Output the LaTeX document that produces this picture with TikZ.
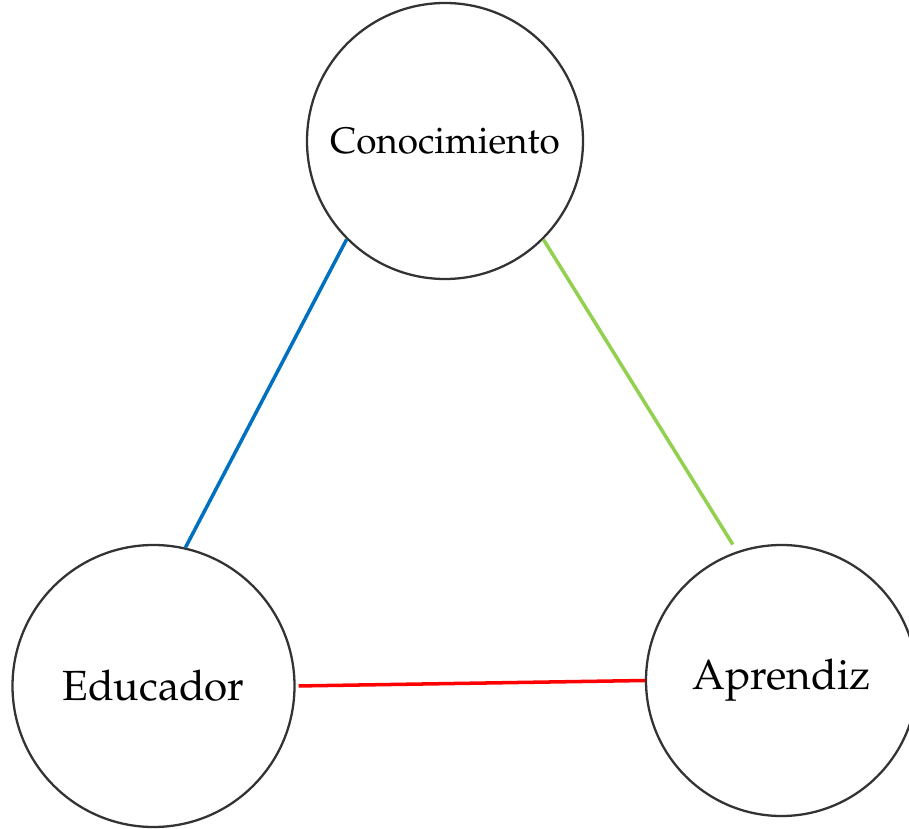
\documentclass[tikz,border=0pt]{standalone}
\usepackage[T1]{fontenc}
\usepackage{mathpazo}
\usepackage{tikz}
\usetikzlibrary{calc}

\definecolor{edublue}{HTML}{0070C0}
\definecolor{aprgreen}{HTML}{92D050}
\definecolor{circgray}{HTML}{333333}

\begin{document}
\begin{tikzpicture}[
	actor/.style = {circle,
		draw=circgray,
		line width=1.3pt,
		inner sep=0pt,
		fill=white},
	link/.style = {line width=2pt}]
	
	\useasboundingbox (0,0) rectangle (18.18,16.56);
	
	% Conocimiento
	\node[actor,minimum size=5.52cm,font=\fontsize{21}{25}\selectfont] (C) at (8.90,13.74) {Conocimiento};
	
	% Educador
	\node[actor,minimum size=5.64cm,font=\fontsize{24}{28}\selectfont] (E) at (3.07,2.84) {Educador};
	
	% Aprendiz
	\node[actor,minimum size=5.42cm,font=\fontsize{24}{28}\selectfont] (A) at (15.63,2.95) {Aprendiz};
	
	% Links
	\draw[link,edublue] (C.225) -- (E.77);
	\draw[link,aprgreen,shorten >=0.16cm] (C.315) -- (A.109);
	\draw[link,red,shorten <=0.06cm] (E.east) -- (A.west);
	
\end{tikzpicture}
\end{document}
